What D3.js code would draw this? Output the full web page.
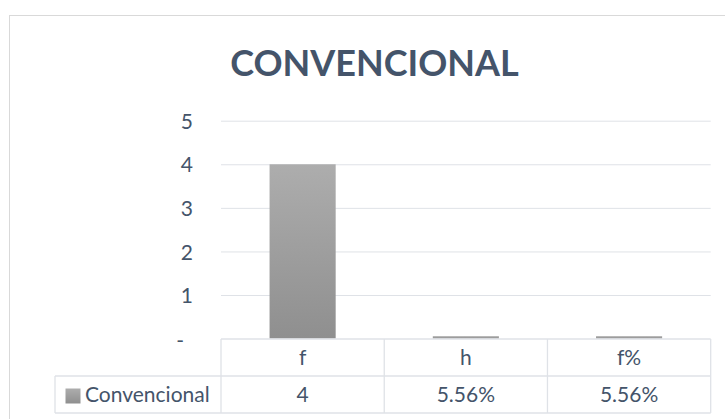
<!DOCTYPE html>
<html>
<head>
<meta charset="utf-8">
<script src="https://cdn.jsdelivr.net/npm/d3@7"></script>
<style>
  html, body { margin: 0; padding: 0; background: #ffffff; }
  svg { display: block; }
  text { font-family: Lato, "Open Sans", sans-serif; }
</style>
</head>
<body>
<div id="chart"></div>
<script>
const chartTitle = "CONVENCIONAL";
const categories = ["f", "h", "f%"];
const seriesName = "Convencional";
const values = [4, 0.0556, 0.0556];
const valueLabels = ["4", "5.56%", "5.56%"];
const yTicks = [0, 1, 2, 3, 4, 5];
const yTickLabels = ["-", "1", "2", "3", "4", "5"];

const W = 725, H = 419;
const textColor = "#44546A";
const gridColor = "#dfe2e7";

const svg = d3.select("#chart").append("svg")
  .attr("width", W).attr("height", H);

const defs = svg.append("defs");
const grad = defs.append("linearGradient")
  .attr("id", "barGrad").attr("x1", 0).attr("y1", 0).attr("x2", 0).attr("y2", 1);
grad.append("stop").attr("offset", "0%").attr("stop-color", "#adadad");
grad.append("stop").attr("offset", "100%").attr("stop-color", "#8f8f8f");

// outer chart border
svg.append("rect")
  .attr("x", 9.5).attr("y", 15.5)
  .attr("width", W + 10).attr("height", H + 10)
  .attr("fill", "#fff").attr("stroke", "#d9d9d9").attr("stroke-width", 1);

// title
svg.append("text")
  .attr("x", 374.5).attr("y", 76)
  .attr("text-anchor", "middle")
  .attr("fill", textColor)
  .attr("font-weight", "bold")
  .attr("font-size", 36)
  .text(chartTitle);

const plotLeft = 221, plotRight = 710.7;
const x = d3.scaleBand().domain(categories).range([plotLeft, plotRight]).padding(0);
const y = d3.scaleLinear().domain([0, 5]).range([338.6, 120.7]);

// gridlines
const grid = svg.append("g")
  .attr("transform", `translate(${plotLeft},0)`)
  .call(d3.axisLeft(y).tickValues(yTicks.slice(1)).tickSize(-(plotRight - plotLeft)).tickFormat(""));
grid.select(".domain").remove();
grid.selectAll(".tick line").attr("stroke", gridColor).attr("stroke-width", 1);

// y axis labels
const yAxis = svg.append("g")
  .attr("transform", `translate(193,0)`)
  .call(d3.axisLeft(y).tickValues(yTicks).tickSize(0).tickPadding(0)
    .tickFormat((d, i) => yTickLabels[i]));
yAxis.select(".domain").remove();
yAxis.selectAll(".tick text")
  .attr("fill", textColor)
  .attr("font-size", 21)
  .attr("font-family", "Lato, 'Open Sans', sans-serif")
  .attr("dy", "0.36em");
yAxis.selectAll(".tick").filter(d => d === 0).select("text").attr("dx", -9).attr("dy", "0.42em");

// bars
const barW = x.bandwidth() * 0.405;
svg.append("g").selectAll("rect")
  .data(values)
  .join("rect")
  .attr("x", (d, i) => x(categories[i]) + (x.bandwidth() - barW) / 2)
  .attr("y", d => y(d))
  .attr("width", barW)
  .attr("height", d => y(0) - y(d))
  .attr("fill", "url(#barGrad)");

// data table
const rowTop = 339, rowMid = 376, rowBot = 413;
const legendLeft = 55;
const tbl = svg.append("g").attr("stroke", gridColor).attr("stroke-width", 1.3);
tbl.append("line").attr("x1", plotLeft).attr("x2", plotRight).attr("y1", rowTop).attr("y2", rowTop);
tbl.append("line").attr("x1", legendLeft).attr("x2", plotRight).attr("y1", rowMid).attr("y2", rowMid);
tbl.append("line").attr("x1", legendLeft).attr("x2", plotRight).attr("y1", rowBot).attr("y2", rowBot);
tbl.append("line").attr("x1", legendLeft).attr("x2", legendLeft).attr("y1", rowMid).attr("y2", rowBot);
const colEdges = categories.map(c => x(c)).concat([plotRight]);
tbl.selectAll("line.col").data(colEdges).join("line").attr("class", "col")
  .attr("x1", d => d).attr("x2", d => d).attr("y1", rowTop).attr("y2", rowBot);

// header texts
svg.append("g").selectAll("text").data(categories).join("text")
  .attr("x", d => x(d) + x.bandwidth() / 2)
  .attr("y", (rowTop + rowMid) / 2)
  .attr("dy", "0.36em")
  .attr("text-anchor", "middle")
  .attr("fill", textColor)
  .attr("font-size", 21)
  .text(d => d);

// value texts
svg.append("g").selectAll("text").data(valueLabels).join("text")
  .attr("x", (d, i) => x(categories[i]) + x.bandwidth() / 2)
  .attr("y", (rowMid + rowBot) / 2)
  .attr("dy", "0.36em")
  .attr("text-anchor", "middle")
  .attr("fill", textColor)
  .attr("font-size", 21)
  .text(d => d);

// legend key in table
svg.append("rect")
  .attr("x", 65.5).attr("y", 388.5).attr("width", 15).attr("height", 15)
  .attr("fill", "url(#barGrad)");
svg.append("text")
  .attr("x", 85).attr("y", (rowMid + rowBot) / 2)
  .attr("dy", "0.36em")
  .attr("fill", textColor)
  .attr("font-size", 21)
  .text(seriesName);
</script>
</body>
</html>
